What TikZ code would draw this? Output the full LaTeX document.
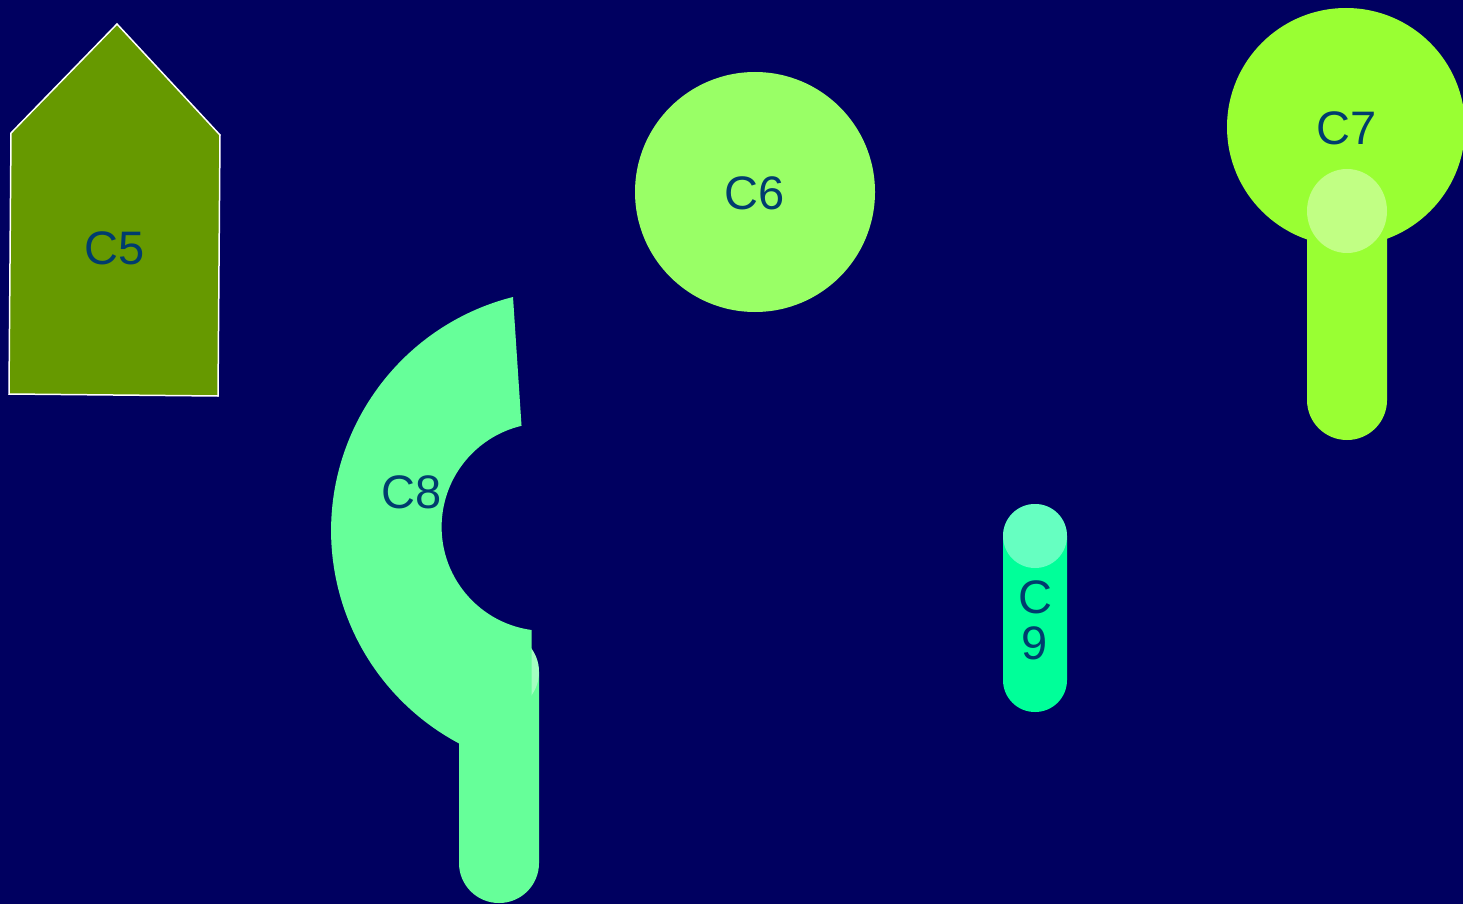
\documentclass[tikz,border=0pt]{standalone}
\usepackage{fontspec}
\setmainfont{Liberation Sans}
\definecolor{bg}{RGB}{0,0,96}
\definecolor{cfive}{RGB}{102,153,0}
\definecolor{csix}{RGB}{153,255,102}
\definecolor{cseven}{RGB}{153,255,51}
\definecolor{ceight}{RGB}{102,255,153}
\definecolor{cnine}{RGB}{0,255,153}
\definecolor{lbl}{RGB}{0,60,110}
\begin{document}
\begin{tikzpicture}[x=1pt,y=-1pt,
  lab/.style={text=lbl,font=\fontsize{47}{46}\selectfont,inner sep=0pt},
  glow/.style={fill=white,fill opacity=0.4,draw=none}]
\useasboundingbox (0,0) rectangle (1463,904);
\fill[bg] (0,0) rectangle (1463,904);
% C5 pentagon
\draw[white,line width=1.5pt,fill=cfive,line join=miter] (117,24) -- (220,135) -- (218,396) -- (9,394) -- (11,133) -- cycle;
\node[lab] (c5) at (115,248) {C5};
% C6 circle
\node[circle,fill=csix,minimum size=240pt,inner sep=0pt] (c6) at (755,192) {};
\node[lab] (c6l) at (755,193) {C6};
% C7
\fill[cseven,rounded corners=39.9pt] (1307,171) rectangle (1387,440);
\node[circle,fill=cseven,minimum size=238pt,inner sep=0pt] (c7) at (1346,127) {};
\node[lab] (c7l) at (1347,128) {C7};
\fill[glow] (1347,211) ellipse [x radius=40, y radius=42];
% C8
\fill[ceight,rounded corners=39.9pt] (459,632) rectangle (539,903);
\fill[glow] (499,672) circle [radius=40];
\fill[ceight] (513,297) arc[start angle=255.8, end angle=99.6, radius=241] -- (531.5,630) arc[start angle=97.8, end angle=256.6, radius=104] -- cycle;
\node[lab] (c8) at (412,492) {C8};
% C9
\fill[cnine,rounded corners=31.9pt] (1003,504) rectangle (1067,712);
\fill[glow] (1035,536) circle [radius=32];
\node[lab,align=center] (c9) at (1035,620) {C\\9};
\end{tikzpicture}
\end{document}
